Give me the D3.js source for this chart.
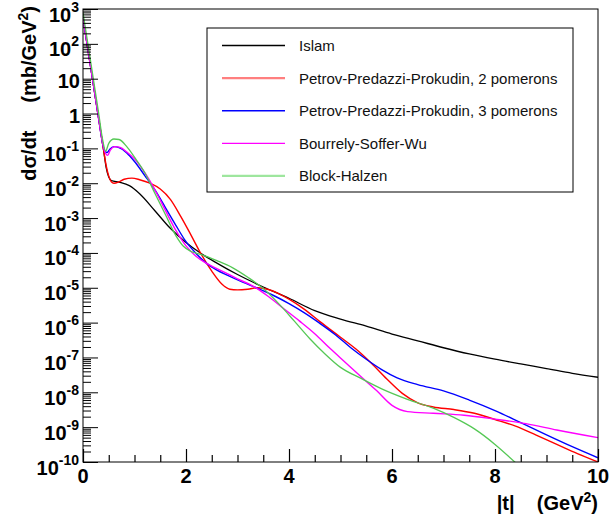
<!DOCTYPE html>
<html>
<head>
<meta charset="utf-8">
<script src="https://cdn.jsdelivr.net/npm/d3@7"></script>
<style>
  body { margin: 0; background: #fff; }
  text { font-family: "Liberation Sans", Arial, Helvetica, sans-serif; }
</style>
</head>
<body>
<svg id="chart"></svg>
<script>
// curves: [ |t| (GeV^2), dsigma/dt (mb/GeV^2) ]
const islam = [
  [0, 5.6e2], [0.1, 6.3e1], [0.2, 7.1], [0.3, 7.9e-1], [0.4, 8.9e-2], [0.45, 2.8e-2],
  [0.5, 1.5e-2], [0.55, 1.2e-2], [0.7, 1.07e-2], [0.9, 8.5e-3], [1.1, 5.0e-3],
  [1.4, 1.6e-3], [1.7, 5.0e-4], [2.0, 2.0e-4], [2.3, 9.5e-5], [2.6, 5.1e-5],
  [3.0, 2.4e-5], [3.5, 1.05e-5], [4.0, 5.0e-6], [4.5, 2.2e-6], [5.0, 1.26e-6],
  [5.5, 7.9e-7], [6.0, 4.7e-7], [6.5, 3.0e-7], [7.0, 1.9e-7], [7.5, 1.26e-7],
  [8.0, 8.9e-8], [8.5, 6.5e-8], [9.0, 4.8e-8], [9.5, 3.5e-8], [10, 2.7e-8]
];
const ppp2 = [
  [0, 5.6e2], [0.1, 6.3e1], [0.2, 7.1], [0.3, 7.9e-1], [0.4, 8.9e-2], [0.45, 3.2e-2],
  [0.5, 1.6e-2], [0.55, 1.1e-2], [0.6, 1.0e-2], [0.7, 1.1e-2], [0.8, 1.3e-2],
  [0.95, 1.4e-2], [1.1, 1.26e-2], [1.3, 1.0e-2], [1.5, 6.8e-3], [1.7, 3.4e-3],
  [1.9, 1.1e-3], [2.1, 3.2e-4], [2.3, 8.9e-5], [2.5, 3.0e-5], [2.7, 1.26e-5],
  [2.85, 9.1e-6], [3.0, 8.7e-6], [3.2, 9.1e-6], [3.4, 1.0e-5], [3.6, 8.9e-6],
  [3.8, 6.8e-6], [4.0, 4.7e-6], [4.3, 2.4e-6], [4.6, 1.07e-6], [5.0, 3.8e-7],
  [5.3, 1.74e-7], [5.6, 6.8e-8], [5.9, 2.4e-8], [6.2, 9.3e-9], [6.5, 5.0e-9],
  [6.8, 3.8e-9], [7.2, 3.2e-9], [7.6, 2.5e-9], [8.0, 1.66e-9], [8.4, 1.07e-9],
  [8.8, 5.9e-10], [9.2, 3.2e-10], [9.6, 1.74e-10], [10, 1.0e-10]
];
const ppp3 = [
  [0, 5.6e2], [0.1, 6.3e1], [0.2, 7.1], [0.3, 7.9e-1], [0.38, 1.4e-1], [0.43, 7.9e-2],
  [0.47, 7.6e-2], [0.52, 9.5e-2], [0.6, 1.12e-1], [0.7, 1.05e-1], [0.85, 7.4e-2],
  [1.0, 4.2e-2], [1.2, 1.66e-2], [1.4, 6.3e-3], [1.6, 2.0e-3], [1.8, 6.3e-4],
  [2.0, 2.1e-4], [2.2, 9.5e-5], [2.4, 5.0e-5], [2.6, 3.2e-5], [2.8, 2.3e-5],
  [3.1, 1.45e-5], [3.4, 9.5e-6], [3.7, 6.0e-6], [4.0, 3.5e-6], [4.3, 1.9e-6],
  [4.6, 9.5e-7], [4.9, 4.5e-7], [5.2, 1.9e-7], [5.5, 8.9e-8], [5.8, 4.5e-8],
  [6.1, 2.6e-8], [6.5, 1.66e-8], [7.0, 1.1e-8], [7.5, 6.0e-9], [8.0, 3.0e-9],
  [8.5, 1.35e-9], [9.0, 6.0e-10], [9.5, 2.75e-10], [10, 1.32e-10]
];
const bsw = [
  [0, 5.6e2], [0.1, 6.3e1], [0.2, 7.1], [0.3, 7.9e-1], [0.38, 1.4e-1], [0.44, 7.1e-2],
  [0.48, 6.3e-2], [0.53, 8.9e-2], [0.62, 1.12e-1], [0.72, 1.07e-1], [0.85, 7.9e-2],
  [1.0, 5.0e-2], [1.2, 2.0e-2], [1.4, 6.3e-3], [1.6, 1.66e-3], [1.8, 4.5e-4],
  [2.0, 1.6e-4], [2.2, 7.9e-5], [2.4, 5.0e-5], [2.7, 3.0e-5], [3.0, 1.8e-5],
  [3.3, 1.12e-5], [3.6, 5.6e-6], [3.9, 2.5e-6], [4.2, 1.12e-6], [4.5, 4.8e-7],
  [4.8, 1.8e-7], [5.1, 7.1e-8], [5.4, 2.8e-8], [5.7, 1.12e-8], [6.0, 4.2e-9],
  [6.3, 2.8e-9], [6.8, 2.5e-9], [7.4, 2.2e-9], [8.0, 1.7e-9], [8.6, 1.26e-9],
  [9.2, 8.3e-10], [10, 5.0e-10]
];
const blockHalzen = [
  [0, 7.9e2], [0.1, 8.9e1], [0.2, 1.0e1], [0.3, 1.12], [0.38, 1.8e-1], [0.44, 8.3e-2],
  [0.5, 1.4e-1], [0.6, 1.86e-1], [0.7, 1.8e-1], [0.85, 1.12e-1], [1.0, 5.6e-2],
  [1.2, 2.0e-2], [1.4, 5.0e-3], [1.6, 1.26e-3], [1.8, 3.2e-4], [1.95, 1.55e-4],
  [2.1, 1.1e-4], [2.3, 8.9e-5], [2.6, 6.0e-5], [2.9, 3.8e-5], [3.2, 2.0e-5],
  [3.5, 9.5e-6], [3.8, 3.5e-6], [4.1, 1.12e-6], [4.4, 3.5e-7], [4.7, 1.26e-7],
  [5.0, 5.2e-8], [5.4, 2.5e-8], [5.8, 1.26e-8], [6.3, 6.3e-9], [6.8, 3.5e-9],
  [7.2, 1.9e-9], [7.6, 8.9e-10], [8.0, 3.2e-10], [8.4, 9.5e-11]
];

const seriesNames = [
  'Islam',
  'Petrov-Predazzi-Prokudin, 2 pomerons',
  'Petrov-Predazzi-Prokudin, 3 pomerons',
  'Bourrely-Soffer-Wu',
  'Block-Halzen'
];
const seriesData = [islam, ppp2, ppp3, bsw, blockHalzen];

const xTicksMajor = [0, 2, 4, 6, 8, 10];
const yExponents = d3.range(-10, 4);

const dim = { width: 610, height: 519, left: 83, right: 598, top: 9, bottom: 462 };

const styles = [
  { color: '#000000', width: 1.3, legendColor: '#000000', legendWidth: 1.3 },
  { color: '#ff0000', width: 1.4, legendColor: '#ff7f7f', legendWidth: 2.2 },
  { color: '#0000ff', width: 1.4, legendColor: '#0000ff', legendWidth: 1.5 },
  { color: '#ff00ff', width: 1.4, legendColor: '#ff00ff', legendWidth: 1.2 },
  { color: '#55c855', width: 1.3, legendColor: '#9ee69e', legendWidth: 2.2 }
];

const svg = d3.select('#chart')
  .attr('width', dim.width)
  .attr('height', dim.height);

const x = d3.scaleLinear().domain([0, 10]).range([dim.left, dim.right]);
const y = d3.scaleLog().domain([1e-10, 1e3]).range([dim.bottom, dim.top]);

// clip curves to the frame
svg.append('clipPath').attr('id', 'plot-clip')
  .append('rect')
  .attr('x', dim.left).attr('y', dim.top)
  .attr('width', dim.right - dim.left).attr('height', dim.bottom - dim.top);

const line = d3.line()
  .x(d => x(d[0]))
  .y(d => y(d[1]))
  .curve(d3.curveMonotoneX);

seriesData.forEach((data, i) => {
  svg.append('path')
    .attr('clip-path', 'url(#plot-clip)')
    .attr('d', line(data))
    .attr('fill', 'none')
    .attr('stroke', styles[i].color)
    .attr('stroke-width', styles[i].width);
});

// frame
svg.append('rect')
  .attr('x', dim.left).attr('y', dim.top)
  .attr('width', dim.right - dim.left).attr('height', dim.bottom - dim.top)
  .attr('fill', 'none').attr('stroke', '#000').attr('stroke-width', 1);

// x axis: major ticks every 2, minor every 0.5
const xMinor = d3.range(0, 10.01, 0.5).filter(v => v % 2 !== 0);
const xAxisMinor = d3.axisBottom(x).tickValues(xMinor).tickSize(-7).tickFormat('');
const xAxisMajor = d3.axisBottom(x).tickValues(xTicksMajor).tickSize(-13).tickFormat('');
[xAxisMinor, xAxisMajor].forEach(ax => {
  const g = svg.append('g').attr('transform', `translate(0,${dim.bottom})`).call(ax);
  g.select('.domain').remove();
  g.selectAll('line').attr('stroke', '#000').attr('stroke-width', 1.2);
});

svg.append('g').selectAll('text')
  .data(xTicksMajor)
  .join('text')
  .attr('x', d => x(d))
  .attr('y', 483)
  .attr('text-anchor', 'middle')
  .attr('font-size', 20)
  .attr('font-weight', 'bold')
  .text(d => d);

// y axis: decades plus 2..9 minor ticks
const yMinor = [];
yExponents.slice(0, -1).forEach(e => {
  for (let k = 2; k <= 9; k++) yMinor.push(k * Math.pow(10, e));
});
const yAxisMinor = d3.axisLeft(y).tickValues(yMinor).tickSize(-8).tickFormat('');
const yAxisMajor = d3.axisLeft(y).tickValues(yExponents.map(e => Math.pow(10, e)))
  .tickSize(-15).tickFormat('');
[yAxisMinor, yAxisMajor].forEach(ax => {
  const g = svg.append('g').attr('transform', `translate(${dim.left},0)`).call(ax);
  g.select('.domain').remove();
  g.selectAll('line').attr('stroke', '#000').attr('stroke-width', 1);
});

const yLabels = svg.append('g');
yExponents.forEach(e => {
  const ty = y(Math.pow(10, e));
  if (e === 0 || e === 1) {
    yLabels.append('text')
      .attr('x', 80).attr('y', ty + 9.5)
      .attr('text-anchor', 'end')
      .attr('font-size', 20).attr('font-weight', 'bold')
      .text(e === 0 ? '1' : '10');
  } else {
    const t = yLabels.append('text')
      .attr('x', 79).attr('y', ty + 12.5)
      .attr('text-anchor', 'end')
      .attr('font-size', 20).attr('font-weight', 'bold');
    t.append('tspan').text('10');
    t.append('tspan').attr('font-size', 14).attr('dy', -10).text(e);
  }
});

// axis titles
const xTitle = svg.append('text')
  .attr('x', dim.right).attr('y', 510)
  .attr('text-anchor', 'end')
  .attr('font-size', 20).attr('font-weight', 'bold');
xTitle.append('tspan').text('|t|\u00a0\u00a0\u00a0\u00a0(GeV');
xTitle.append('tspan').attr('font-size', 14).attr('dy', -8).text('2');
xTitle.append('tspan').attr('dy', 8).text(')');

const yTitle = svg.append('text')
  .attr('transform', 'translate(36,6) rotate(-90)')
  .attr('text-anchor', 'end')
  .attr('font-size', 20).attr('font-weight', 'bold');
yTitle.append('tspan').text('d\u03c3/dt\u00a0\u00a0\u00a0\u00a0\u00a0(mb/GeV');
yTitle.append('tspan').attr('font-size', 14).attr('dy', -8).text('2');
yTitle.append('tspan').attr('dy', 8).text(')');

// legend
const legendDim = { x: 207, y: 28, width: 366, height: 164, rowStart: 45.5, rowStep: 32.6,
  lineX1: 222, lineX2: 285, textX: 299 };
const legend = svg.append('g');
legend.append('rect')
  .attr('x', legendDim.x).attr('y', legendDim.y)
  .attr('width', legendDim.width).attr('height', legendDim.height)
  .attr('fill', '#fff').attr('stroke', '#000').attr('stroke-width', 1);

seriesNames.forEach((name, i) => {
  const ry = legendDim.rowStart + legendDim.rowStep * i;
  legend.append('line')
    .attr('x1', legendDim.lineX1).attr('x2', legendDim.lineX2)
    .attr('y1', ry).attr('y2', ry)
    .attr('stroke', styles[i].legendColor)
    .attr('stroke-width', styles[i].legendWidth);
  legend.append('text')
    .attr('x', legendDim.textX).attr('y', ry + 5.5)
    .attr('font-size', 15)
    .attr('fill', '#111')
    .text(name);
});
</script>
</body>
</html>
